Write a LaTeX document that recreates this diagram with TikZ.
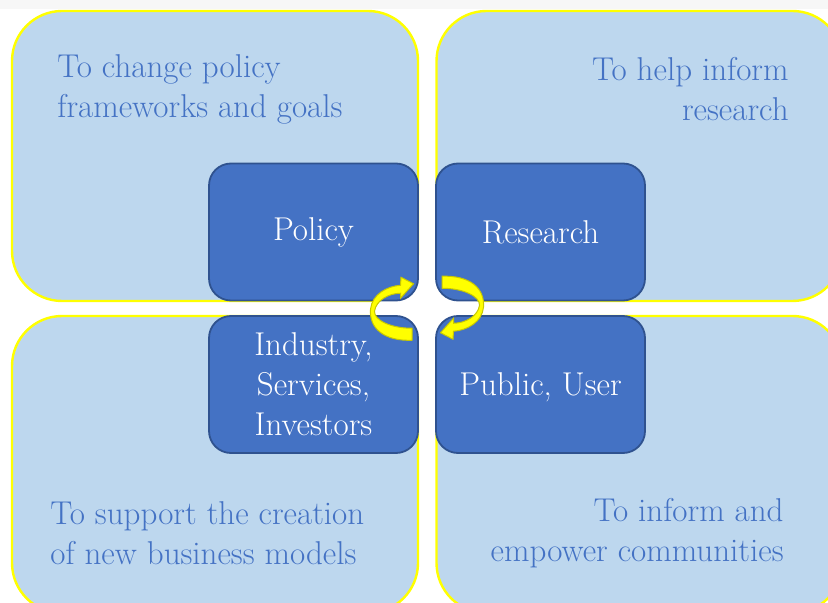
\documentclass[tikz,border=0pt]{standalone}
\usepackage{xcolor}
\usepackage{tikz}
\usetikzlibrary{calc}

\definecolor{quadfill}{HTML}{BDD7EE}
\definecolor{quadline}{HTML}{FFFF00}
\definecolor{aimblue}{HTML}{4472C4}
\definecolor{boxline}{HTML}{2F528F}
\definecolor{arrowline}{HTML}{C8C800}

\begin{document}
\begin{tikzpicture}[x=0.5pt, y=-0.5pt,
  quad/.style={rectangle, rounded corners=25pt, fill=quadfill, draw=quadline, line width=1.2pt, inner sep=0pt, minimum width=203pt},
  actor/.style={rectangle, rounded corners=11pt, fill=aimblue, draw=boxline, line width=0.9pt, inner sep=0pt, minimum width=104.5pt, minimum height=68.5pt, text=white, align=center, font=\fontsize{16.5}{20}\selectfont},
  aim/.style={text=aimblue, inner sep=0pt, font=\fontsize{16.5}{20}\selectfont}]

\clip (0,0) rectangle (828,603);
\fill[black!3] (0,0) rectangle (828,9);

% outer quadrants
\node[quad, minimum height=145pt] (qpolicy) at (215, 156) {};
\node[quad, minimum height=145pt] (qresearch) at (639.5, 156) {};
\node[quad, minimum height=148.5pt] (qindustry) at (215, 464.5) {};
\node[quad, minimum height=148.5pt] (qpublic) at (639.5, 464.5) {};

% aims
\node[aim, anchor=west, align=left] (apolicy) at (57, 89) {To change policy\\frameworks and goals};
\node[aim, anchor=east, align=right] (aresearch) at (789, 89) {To help inform\\research};
\node[aim, anchor=west, align=left] (aindustry) at (50, 533) {To support the creation\\of new business models};
\node[aim, anchor=east, align=right] (apublic) at (784, 533) {To inform and\\empower communities};

% actors
\node[actor] (policy) at (313.5, 232) {Policy};
\node[actor] (research) at (540.5, 232) {Research};
\node[actor] (industry) at (313.5, 384.5) {Industry,\\Services,\\Investors};
\node[actor, text depth=0pt] (public) at (540.5, 384.5) {Public, User};

% cycle arrows
\coordinate (hub) at ($(policy.south east)!0.5!(public.north west)$);
\foreach \ang in {0,180} {
  \begin{scope}[shift={(hub)}, rotate=\ang]
    \filldraw[fill=quadline, draw=arrowline, line width=0.5pt]
      (-15,32) .. controls (-43,33) and (-58,20) .. (-56.5,1)
      .. controls (-55,-14) and (-40,-22) .. (-26.5,-23)
      -- (-26,-31) -- (-13.5,-24.5) -- (-26.5,-10) -- (-26.5,-15)
      .. controls (-38,-15) and (-51,-8) .. (-52.5,3)
      .. controls (-53,12) and (-36,20) .. (-15,20) -- cycle;
  \end{scope}
}

\end{tikzpicture}
\end{document}
